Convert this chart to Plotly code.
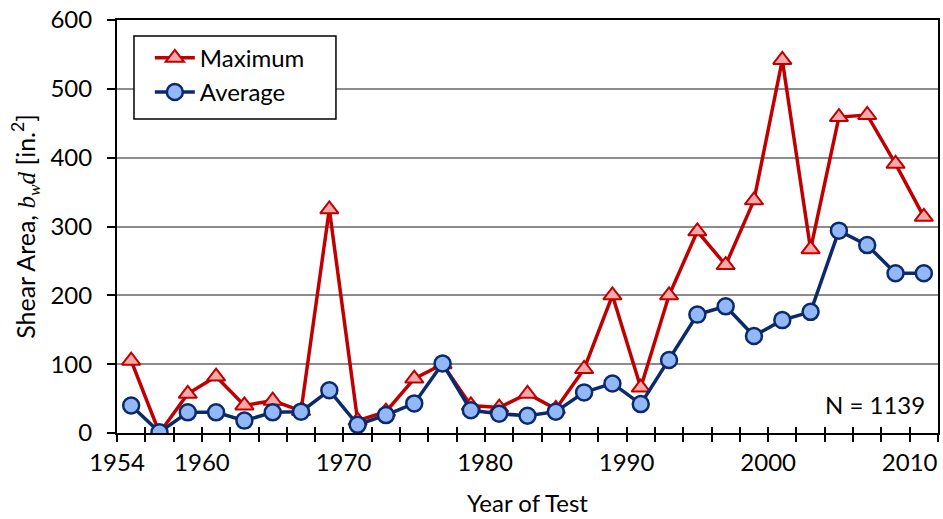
import plotly.graph_objects as go

years = [1955, 1957, 1959, 1961, 1963, 1965, 1967, 1969, 1971, 1973, 1975, 1977, 1979, 1981,
         1983, 1985, 1987, 1989, 1991, 1993, 1995, 1997, 1999, 2001, 2003, 2005, 2007, 2009, 2011]
maximum = [105, 0, 57, 82, 40, 47, 32, 325, 18, 31, 79, 100, 40, 37,
           57, 35, 93, 200, 66, 200, 293, 244, 338, 542, 267, 459, 462, 391, 314]
average = [40, 1, 30, 30, 18, 30, 31, 62, 12, 26, 43, 101, 33, 28,
           25, 31, 59, 72, 42, 106, 172, 184, 141, 164, 176, 294, 273, 232, 232]

x_tick_vals = list(range(1954, 2013, 2))
x_tick_labels = {1954: "1954", 1960: "1960", 1970: "1970", 1980: "1980", 1990: "1990", 2000: "2000", 2010: "2010"}
x_tick_text = [x_tick_labels.get(v, "") for v in x_tick_vals]
y_tick_vals = [0, 100, 200, 300, 400, 500, 600]

FONT = "Lato"
RED = "#C00000"
NAVY = "#0B2A6B"
FS = 24

fig = go.Figure()
fig.add_trace(go.Scatter(
    x=years, y=maximum, name="Maximum", mode="lines+markers",
    line=dict(color=RED, width=3.5),
    marker=dict(symbol="triangle-up", size=16, color="#F7A8A8", line=dict(color=RED, width=2)),
))
fig.add_trace(go.Scatter(
    x=years, y=average, name="Average", mode="lines+markers",
    line=dict(color=NAVY, width=3.5),
    marker=dict(symbol="circle", size=16, color="#92B8F8", line=dict(color=NAVY, width=2.5)),
))
# invisible trace for inside x ticks (cross ticks)
fig.add_trace(go.Scatter(x=[years[0]], y=[0], xaxis="x2", showlegend=False,
                         mode="markers", marker=dict(opacity=0), hoverinfo="skip"))

fig.update_layout(
    width=943, height=519,
    margin=dict(l=117, r=5, t=20, b=86),
    paper_bgcolor="white", plot_bgcolor="white",
    font=dict(family=FONT, size=FS, color="black"),
    showlegend=True,
    legend=dict(
        x=0.040, y=0.962, xanchor="left", yanchor="top",
        bgcolor="rgba(0,0,0,0)", borderwidth=0,
        font=dict(family=FONT, size=FS),
        tracegroupgap=0, itemwidth=40,
    ),
    shapes=[dict(
        type="rect", xref="paper", yref="paper",
        x0=0.0207, x1=0.2667, y0=0.760, y1=0.961,
        line=dict(color="black", width=1.5), fillcolor="white", layer="above",
    )],
    xaxis=dict(
        range=[1954, 2012], tickmode="array", tickvals=x_tick_vals, ticktext=x_tick_text,
        ticks="outside", ticklen=7, tickwidth=1.5, tickcolor="black",
        showline=True, linecolor="black", linewidth=2, mirror=True,
        showgrid=False, zeroline=False, ticklabeloverflow="allow", automargin="bottom",
        title=dict(text="Year of Test", font=dict(family=FONT, size=FS), standoff=20),
        tickfont=dict(family=FONT, size=FS),
    ),
    xaxis2=dict(
        overlaying="x", matches="x", range=[1954, 2012], tickmode="array", tickvals=x_tick_vals,
        ticks="inside", ticklen=6, tickwidth=1.5, tickcolor="black", automargin=False,
        showticklabels=False, showgrid=False, zeroline=False, showline=False,
    ),
    yaxis=dict(
        range=[0, 600], tickmode="array", tickvals=y_tick_vals,
        ticks="outside", ticklen=8, tickwidth=1.5, tickcolor="black",
        showline=True, linecolor="black", linewidth=2, mirror=True,
        showgrid=True, gridcolor="#8C8C8C", gridwidth=1.5, zeroline=False,
        ticklabeloverflow="allow", ticklabelstandoff=10, automargin="left",
        title=dict(text="Shear Area, <span style='font-family:Liberation Serif'><i>b</i><sub><i>w</i></sub><i>d</i></span> [in.<sup>2</sup>]",
                   font=dict(family=FONT, size=25), standoff=8),
        tickfont=dict(family=FONT, size=FS),
    ),
    annotations=[dict(
        text="N = 1139", xref="paper", yref="paper", x=0.987, y=0.07,
        xanchor="right", yanchor="middle", showarrow=False,
        font=dict(family=FONT, size=FS),
    )],
)

fig.write_html("out.html", config={"displayModeBar": False},
               post_script="document.body.style.margin='0px';")
